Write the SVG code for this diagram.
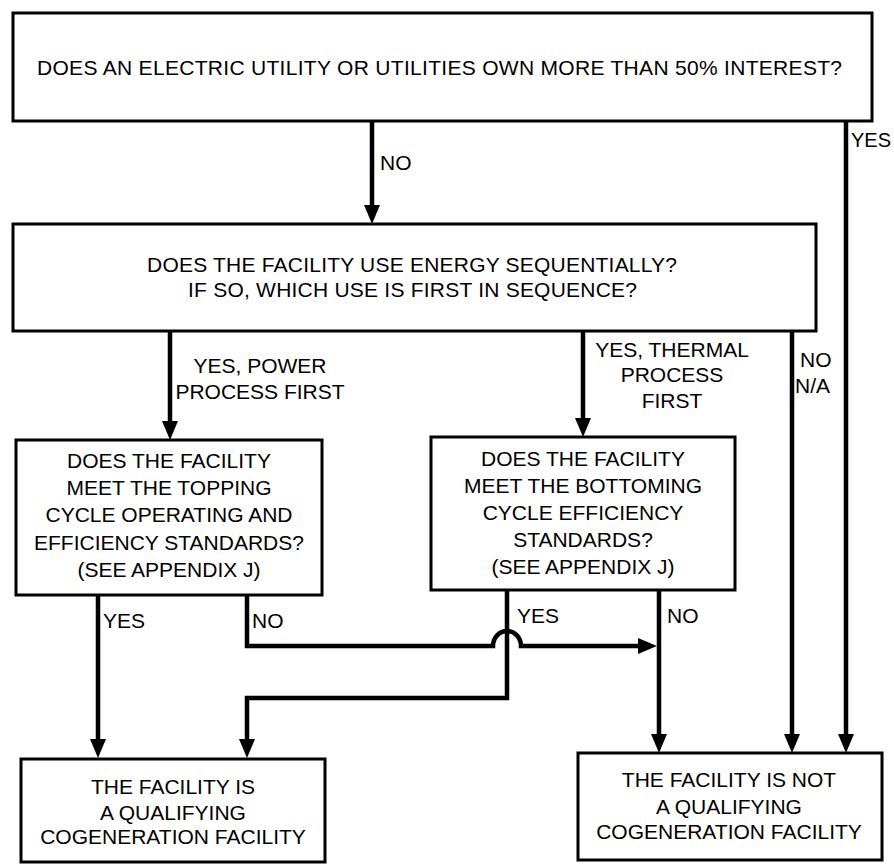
<svg xmlns="http://www.w3.org/2000/svg" width="894" height="866" viewBox="0 0 894 866">
<style>
.box{fill:#fff;stroke:#000;stroke-width:3}
.t{font-family:"Liberation Sans",Arial,Helvetica,sans-serif;font-size:21px;fill:#000}
.m{text-anchor:middle}
.c{fill:none;stroke:#000;stroke-width:4.5}
</style>
<defs>
<marker id="ah" markerUnits="userSpaceOnUse" markerWidth="20" markerHeight="16" refX="8" refY="8" orient="auto">
<path d="M0,0 L19,8 L0,16 z" fill="#000"/>
</marker>
</defs>
<rect width="894" height="866" fill="#fff"/>

<g id="connectors">
<path class="c" d="M372,121 V213" marker-end="url(#ah)"/>
<path class="c" d="M846,118 V742" marker-end="url(#ah)"/>
<path class="c" d="M170,331 V429" marker-end="url(#ah)"/>
<path class="c" d="M583,331 V426" marker-end="url(#ah)"/>
<path class="c" d="M792,331 V742" marker-end="url(#ah)"/>
<path class="c" d="M98,595 V747" marker-end="url(#ah)"/>
<path class="c" d="M247,595 V646 H493 A14,15 0 0 1 521,646 H646" marker-end="url(#ah)"/>
<path class="c" d="M507,590 V698 H247 V747" marker-end="url(#ah)"/>
<path class="c" d="M659,590 V742" marker-end="url(#ah)"/>
</g>

<g id="labels">
<text class="t" x="380" y="170">NO</text>
<text class="t" x="851" y="147" style="font-size:20px">YES</text>
<text class="t m" x="260" y="373">YES, POWER</text>
<text class="t m" x="260" y="399">PROCESS FIRST</text>
<text class="t m" x="672" y="357">YES, THERMAL</text>
<text class="t m" x="672" y="382">PROCESS</text>
<text class="t m" x="672" y="408">FIRST</text>
<text class="t" x="800" y="367">NO</text>
<text class="t" x="795" y="393">N/A</text>
<text class="t" x="103" y="628">YES</text>
<text class="t" x="252" y="628">NO</text>
<text class="t" x="517" y="623">YES</text>
<text class="t" x="667" y="623">NO</text>
</g>

<g id="q1">
<rect class="box" x="13" y="13" width="859" height="108"/>
<text class="t" x="37" y="75" textLength="805" lengthAdjust="spacing">DOES AN ELECTRIC UTILITY OR UTILITIES OWN MORE THAN 50% INTEREST?</text>
</g>

<g id="q2">
<rect class="box" x="13" y="224" width="803" height="107"/>
<text class="t" x="147" y="272" textLength="530" lengthAdjust="spacing">DOES THE FACILITY USE ENERGY SEQUENTIALLY?</text>
<text class="t" x="188" y="297" textLength="449" lengthAdjust="spacing">IF SO, WHICH USE IS FIRST IN SEQUENCE?</text>
</g>

<g id="topping">
<rect class="box" x="16" y="440" width="306" height="155"/>
<text class="t m" x="169" y="468">DOES THE FACILITY</text>
<text class="t m" x="169" y="495">MEET THE TOPPING</text>
<text class="t m" x="169" y="522">CYCLE OPERATING AND</text>
<text class="t m" x="169" y="550">EFFICIENCY STANDARDS?</text>
<text class="t m" x="169" y="577">(SEE APPENDIX J)</text>
</g>

<g id="bottoming">
<rect class="box" x="431" y="437" width="304" height="153"/>
<text class="t m" x="583" y="466">DOES THE FACILITY</text>
<text class="t m" x="583" y="493">MEET THE BOTTOMING</text>
<text class="t m" x="583" y="520">CYCLE EFFICIENCY</text>
<text class="t m" x="583" y="547">STANDARDS?</text>
<text class="t m" x="583" y="574">(SEE APPENDIX J)</text>
</g>

<g id="qualifying">
<rect class="box" x="21" y="759" width="304" height="103"/>
<text class="t m" x="173" y="794">THE FACILITY IS</text>
<text class="t m" x="173" y="820">A QUALIFYING</text>
<text class="t m" x="173" y="844">COGENERATION FACILITY</text>
</g>

<g id="notqualifying">
<rect class="box" x="578" y="753" width="304" height="107"/>
<text class="t m" x="729" y="787">THE FACILITY IS NOT</text>
<text class="t m" x="729" y="814">A QUALIFYING</text>
<text class="t m" x="729" y="839">COGENERATION FACILITY</text>
</g>
</svg>
